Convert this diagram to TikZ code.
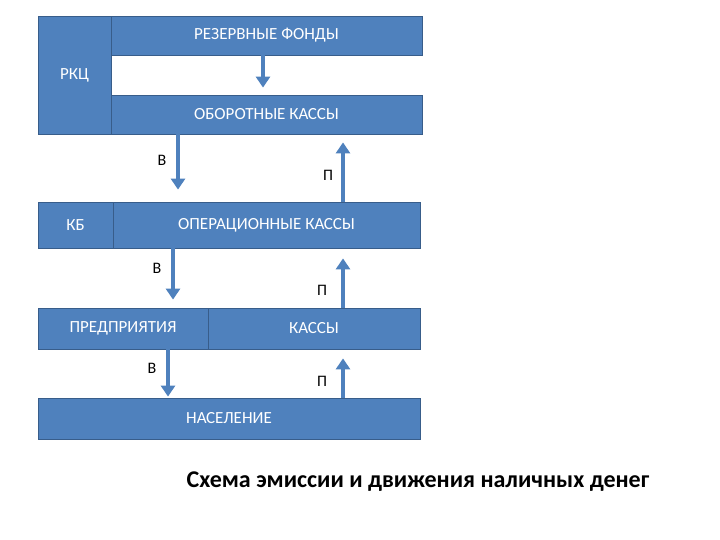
\documentclass[tikz,border=0pt]{standalone}
\usepackage{fontspec}
\setmainfont{Carlito}
\usepackage{tikz}
\usetikzlibrary{arrows.meta,calc}
\usetikzlibrary{positioning}
\definecolor{boxblue}{HTML}{4F81BD}
\definecolor{boxline}{HTML}{385D8A}
\tikzset{
    box/.style={
           rectangle,
           draw=boxline, line width=0.8pt,
           fill=boxblue,
           text=white,
           inner sep=0pt,
           font=\fontsize{17}{19}\selectfont,
           text centered,
           },
    pil/.style={
           -{Triangle[width=14pt,length=11pt]},
           draw=boxblue,
           line width=4.5pt,
           },
    lbl/.style={
           font=\fontsize{16}{18}\selectfont,
           text=black,
           }
}
\begin{document}
\begin{tikzpicture}[x=1pt,y=-1pt]
\useasboundingbox (0,0) rectangle (720,540);
\node[box, minimum width=73pt, minimum height=118pt] (rkc) at (74.5,75) {РКЦ};
\node[box, minimum width=311pt, minimum height=39pt] (fond) at (266.5,35.5) {РЕЗЕРВНЫЕ ФОНДЫ};
\node[box, minimum width=311pt, minimum height=39pt] (obor) at (266.5,114.5) {ОБОРОТНЫЕ КАССЫ};
\node[box, minimum width=75pt, minimum height=46pt] (kb) at (75.5,225) {КБ};
\node[box, minimum width=307pt, minimum height=46pt] (oper) at (266.5,225) {ОПЕРАЦИОННЫЕ КАССЫ};
\node[box, minimum width=170pt, minimum height=41pt] (pred) at (123,328.5) {ПРЕДПРИЯТИЯ};
\node[box, minimum width=212pt, minimum height=41pt] (kassy) at (314,328.5) {КАССЫ};
\node[box, minimum width=382pt, minimum height=41pt] (nasel) at (229,418.5) {НАСЕЛЕНИЕ};
% arrow columns
\coordinate (colA) at (263,0);
\coordinate (colB1) at (178,0);
\coordinate (colB2) at (173,0);
\coordinate (colB3) at (168,0);
\coordinate (colP) at (343,0);
\draw[pil, shorten >=7pt] (fond.south -| colA) -- (obor.north -| colA);
\draw[pil, shorten >=12pt] (obor.south -| colB1) -- (oper.north -| colB1);
\draw[pil, shorten >=8pt] (oper.north -| colP) -- (obor.south -| colP);
\draw[pil, shorten >=8pt] (oper.south -| colB2) -- (pred.north -| colB2);
\draw[pil, shorten >=10pt] (kassy.north -| colP) -- (oper.south -| colP);
\draw[pil, shorten >=1pt] (pred.south -| colB3) -- (nasel.north -| colB3);
\draw[pil, shorten >=9pt] (nasel.north -| colP) -- (kassy.south -| colP);
% labels
\node[lbl] (b1) at (162,160) {В};
\node[lbl] (p1) at (328,175) {П};
\node[lbl] (b2) at (157,268) {В};
\node[lbl] (p2) at (322,290) {П};
\node[lbl] (b3) at (152,368) {В};
\node[lbl] (p3) at (322,381) {П};
\node[font=\fontsize{24}{28}\selectfont\bfseries] (title) at (418,482) {Схема эмиссии и движения наличных денег};
\end{tikzpicture}
\end{document}
